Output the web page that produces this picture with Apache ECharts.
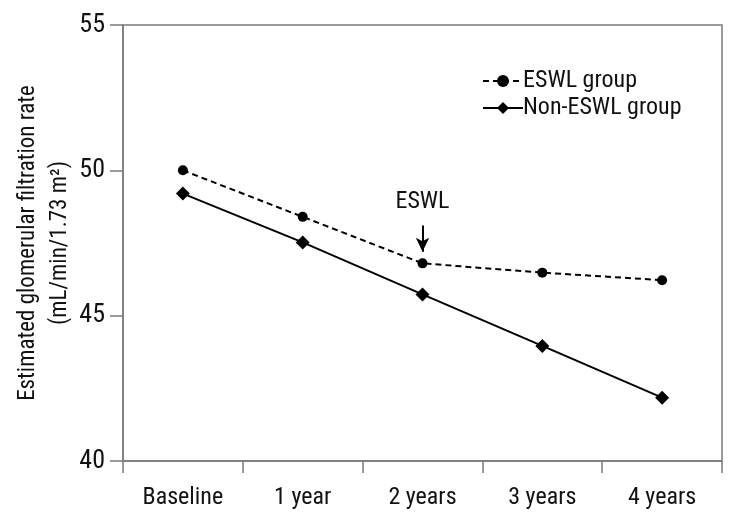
<!DOCTYPE html>
<html>
<head>
<meta charset="utf-8">
<script src="https://cdn.jsdelivr.net/npm/echarts@6/dist/echarts.min.js"></script>
<style>html,body{margin:0;padding:0;background:#fff}#c{width:748px;height:528px}</style>
</head>
<body>
<div id="c"></div>
<script>
const categories = ['Baseline', '1 year', '2 years', '3 years', '4 years'];
const eswlValues = [50.0, 48.4, 46.8, 46.48, 46.22];
const nonEswlValues = [49.2, 47.52, 45.73, 43.96, 42.18];
const yTicks = [40, 45, 50, 55];
const seriesNames = ['ESWL group', 'Non-ESWL group'];
const yAxisTitle = 'Estimated glomerular filtration rate\n(mL/min/1.73 m²)';
const annotationText = 'ESWL';
const annotationCategory = '2 years';
const arrowFrom = 48.1;
const arrowTo = 47.2;

const FONT = "'Liberation Sans Narrow', 'Roboto Condensed', 'Arial Narrow', Roboto, sans-serif";
const AXIS_COLOR = '#7a7a7a';

const chart = echarts.init(document.getElementById('c'), null, {renderer: 'canvas'});
chart.setOption({
  animation: false,
  backgroundColor: '#fff',
  textStyle: {fontFamily: FONT, color: '#111'},
  grid: {left: 123, right: 26, top: 25, bottom: 67, show: true, borderColor: AXIS_COLOR, borderWidth: 1.5, containLabel: false, outerBoundsMode: 'none'},
  legend: {
    left: 477, top: 64, orient: 'vertical', itemWidth: 40, itemHeight: 15, itemGap: 3,
    textStyle: {fontFamily: FONT, fontSize: 24, color: '#111', padding: [0,0,0,-5]},
    data: seriesNames
  },
  xAxis: {
    type: 'category', data: categories, boundaryGap: true,
    axisLine: {lineStyle: {color: AXIS_COLOR, width: 1.5}},
    axisTick: {show: true, length: 12, lineStyle: {color: AXIS_COLOR, width: 1.5}},
    axisLabel: {fontFamily: FONT, fontSize: 24, color: '#111', margin: 25},
    splitLine: {show: false}
  },
  yAxis: {
    type: 'value', min: yTicks[0], max: yTicks[yTicks.length-1], interval: 5,
    axisLine: {show: true, lineStyle: {color: AXIS_COLOR, width: 1.5}},
    axisTick: {show: true, length: 13, lineStyle: {color: AXIS_COLOR, width: 1.5}},
    axisLabel: {fontFamily: FONT, fontSize: 26, color: '#111', margin: 18},
    splitLine: {show: false},
    name: yAxisTitle, nameLocation: 'middle', nameRotate: 90, nameGap: 47, nameMoveOverlap: false,
    nameTextStyle: {fontFamily: FONT, fontSize: 23, color: '#111', lineHeight: 32, align: 'center'}
  },
  series: [
    {
      name: seriesNames[0], type: 'line', data: eswlValues,
      symbol: 'circle', symbolSize: 10,
      itemStyle: {color: '#000'},
      lineStyle: {color: '#000', width: 2, type: [6, 4]},
      markLine: {
        silent: true, symbol: ['none', 'arrow'], symbolSize: [10, 14],
        lineStyle: {color: '#000', width: 2, type: 'solid'},
        label: {show: true, position: 'start', formatter: annotationText, fontFamily: FONT, fontSize: 24, color: '#111', distance: 12},
        data: [[{coord: [annotationCategory, arrowFrom]}, {coord: [annotationCategory, arrowTo]}]]
      }
    },
    {
      name: seriesNames[1], type: 'line', data: nonEswlValues,
      symbol: 'diamond', symbolSize: 14,
      itemStyle: {color: '#000'},
      lineStyle: {color: '#000', width: 2}
    }
  ]
});
</script>
</body>
</html>
